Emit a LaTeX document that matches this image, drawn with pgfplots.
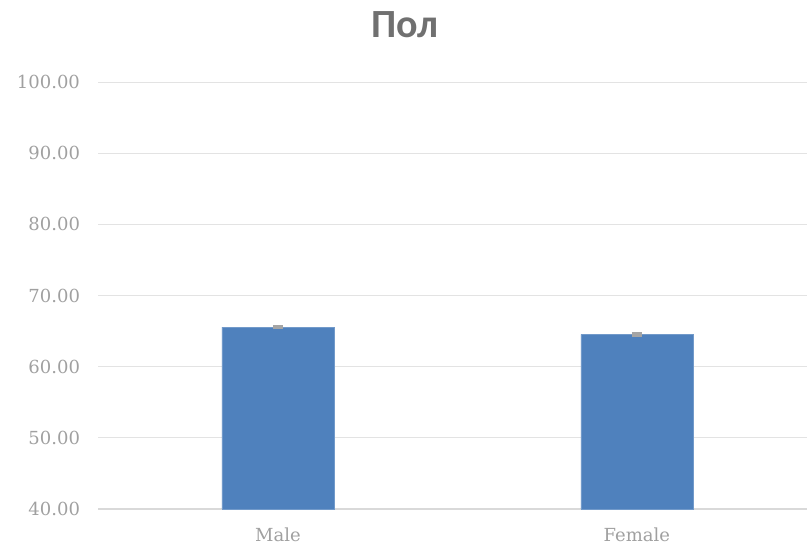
\documentclass[border=0pt]{standalone}
\usepackage{fontspec}
\setmainfont{DejaVu Serif}
\newfontfamily\titlefont{Carlito}
\usepackage{pgfplots}
\pgfplotsset{compat=1.18}
\definecolor{barblue}{HTML}{4F81BD}
\definecolor{gridgray}{HTML}{E3E3E3}
\definecolor{axisgray}{HTML}{D9D9D9}
\definecolor{labgray}{HTML}{A0A0A0}
\definecolor{titlegray}{HTML}{707070}
\definecolor{errgray}{HTML}{A5A5A5}
\begin{document}
\begin{tikzpicture}
\useasboundingbox (-98.5pt,-37pt) rectangle (708.5pt,509pt);
\begin{axis}[
    scale only axis,
    width=708.5pt, height=427pt,
    xmin=-0.5, xmax=1.474,
    ymin=40, ymax=100,
    ytick={40,50,...,100},
    xtick={0,1},
    xticklabels={Male,Female},
    ymajorgrids,
    grid style={gridgray, line width=1pt},
    axis line style={draw=none},
    major tick length=0pt,
    tick label style={font=\fontsize{18}{20}\selectfont, text=labgray},
    y tick label style={xshift=-15pt,
        /pgf/number format/.cd, fixed, fixed zerofill, precision=2, assume math mode=true, /tikz/.cd},
    x tick label style={yshift=-15pt},
    title={\titlefont\bfseries\fontsize{40}{44}\selectfont Пол},
    title style={at={(axis description cs:0.4326,1)}, anchor=center, yshift=51pt, text=titlegray},
    clip=false,
]
\draw[axisgray, line width=1.5pt] (axis cs:-0.5,40) -- (axis cs:1.474,40);
\addplot[ybar, bar width=112pt, fill=barblue, draw=barblue!80!white,
    error bars/.cd, y dir=both, y explicit,
    error bar style={errgray, line width=2.5pt},
    error mark options={errgray, line width=2.5pt, mark size=5pt, rotate=90}]
    coordinates {(0,65.56) +- (0,0.12) (1,64.52) +- (0,0.12)};
\end{axis}
\end{tikzpicture}
\end{document}
